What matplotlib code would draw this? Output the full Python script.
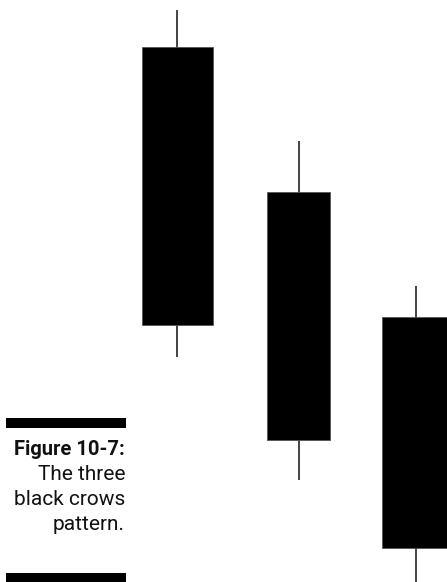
import matplotlib
matplotlib.use("Agg")
import matplotlib.pyplot as plt
from matplotlib.patches import Rectangle

# Data: three black crows (price units)
highs = [572, 441, 296]
opens = [535, 390, 265]
closes = [257, 142, 34]
lows = [225, 102, 0]

caption_title = "Figure 10-7:"
caption_lines = ["The three", "black crows", "pattern."]

# Layout
W, H = 447, 582
x_centers = [177, 298.5, 416]
body_widths = [71, 63, 68]

fig = plt.figure(figsize=(W / 100, H / 100), dpi=100)
ax = fig.add_axes([0, 0, 1, 1])
ax.set_xlim(0, W)
ax.set_ylim(0, H)
ax.axis("off")

for xc, bw, hi, op, cl, lo in zip(x_centers, body_widths, highs, opens, closes, lows):
    ax.plot([xc, xc], [lo, hi], color="#111111", lw=1.1, solid_capstyle="butt", zorder=1)
    ax.add_patch(Rectangle((xc - bw / 2, cl), bw, op - cl, facecolor="black",
                           edgecolor="#555555", lw=0.6, zorder=2))

# Caption bars
ax.add_patch(Rectangle((6, H - 428), 120, 10, facecolor="black", edgecolor="none"))
ax.add_patch(Rectangle((6, 0), 120, 9, facecolor="black", edgecolor="none"))

fam = ["Roboto", "DejaVu Sans"]
ax.text(125, H - 455, caption_title, ha="right", va="baseline", fontsize=14.5,
        fontweight="bold", family=fam, color="#111111")
for i, line in enumerate(caption_lines):
    ax.text(125, H - 480 - 25 * i, line, ha="right", va="baseline", fontsize=15,
            family=fam, color="#111111")

fig.savefig("out.png", dpi=100)
